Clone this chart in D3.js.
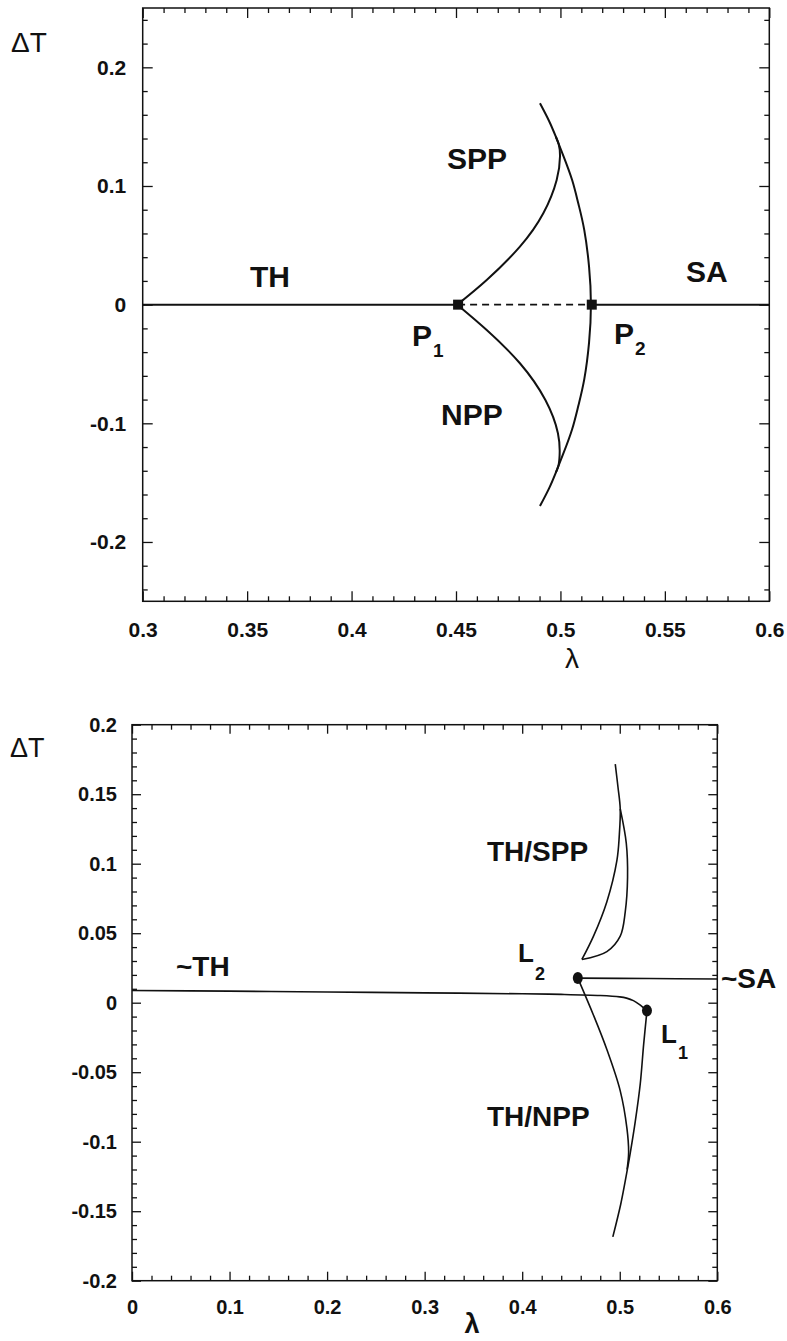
<!DOCTYPE html>
<html>
<head>
<meta charset="utf-8">
<script src="https://cdn.jsdelivr.net/npm/d3@7"></script>
<style>
body { margin: 0; background: #fff; }
text { font-family: "Liberation Sans", Arial, Helvetica, sans-serif; fill: #111; }
</style>
</head>
<body>
<script>
// ---- top panel (lambda 0.3..0.6) ----
const topXTicks = [0.3, 0.35, 0.4, 0.45, 0.5, 0.55, 0.6];
const topYTicks = [-0.2, -0.1, 0, 0.1, 0.2];
const topBaseLeft = [[0.3, 0], [0.451, 0]];
const topBaseDashed = [[0.451, 0], [0.515, 0]];
const topBaseRight = [[0.515, 0], [0.6, 0]];
const topOuterArc = [[0.4902, 0.1697], [0.4945, 0.155], [0.4978, 0.1415], [0.5015, 0.125], [0.5056, 0.105],
  [0.5086, 0.085], [0.5114, 0.063], [0.5137, 0.032], [0.5146, 0], [0.5137, -0.032], [0.5114, -0.063],
  [0.5086, -0.085], [0.5056, -0.105], [0.5015, -0.125], [0.4978, -0.1415], [0.4945, -0.155], [0.4902, -0.1697]];
const topSPP = [[0.4506, 0], [0.4647, 0.0208], [0.4806, 0.0489], [0.4918, 0.077], [0.4982, 0.1051],
  [0.4998, 0.125], [0.4992, 0.135], [0.4978, 0.1415]];
const topNPP = [[0.4506, 0], [0.4647, -0.0213], [0.4806, -0.0494], [0.4928, -0.0804], [0.4988, -0.1084],
  [0.4996, -0.127], [0.499, -0.136], [0.4978, -0.1415]];
const topPoints = [[0.451, 0], [0.515, 0]];

// ---- bottom panel (lambda 0..0.6) ----
const botXTicks = [0, 0.1, 0.2, 0.3, 0.4, 0.5, 0.6];
const botYTicks = [-0.2, -0.15, -0.1, -0.05, 0, 0.05, 0.1, 0.15, 0.2];
const botTH = [[0, 0.0088], [0.1, 0.0083], [0.2, 0.0077], [0.3, 0.0071], [0.4, 0.0064], [0.44, 0.006],
  [0.48, 0.0052], [0.5, 0.0042], [0.507, 0.0033], [0.514, 0.0015], [0.52, -0.0012], [0.5279, -0.0057]];
const botSA = [[0.457, 0.0177], [0.53, 0.0174], [0.6, 0.017]];
const botSPPa = [[0.4954, 0.1716], [0.4982, 0.155], [0.5005, 0.1394], [0.4995, 0.12], [0.4971, 0.1024],
  [0.4868, 0.0727], [0.4731, 0.0479], [0.4612, 0.0311]];
const botSPPb = [[0.4612, 0.0311], [0.4868, 0.0368], [0.5005, 0.0479], [0.5056, 0.0652], [0.508, 0.09],
  [0.5067, 0.1147], [0.5005, 0.1394]];
const botNPPa = [[0.457, 0.0177], [0.4731, -0.009], [0.4868, -0.0337], [0.5005, -0.0634], [0.5074, -0.0906],
  [0.5091, -0.108], [0.5075, -0.12]];
const botNPPb = [[0.5279, -0.0057], [0.5245, -0.03], [0.521, -0.0585], [0.516, -0.085], [0.5108, -0.108],
  [0.5065, -0.125], [0.501, -0.145], [0.4929, -0.1685]];
const botPoints = [[0.457, 0.0177], [0.5279, -0.0057]];

const W = 787, H = 1341;
const svg = d3.select("body").append("svg").attr("width", W).attr("height", H);

const fmt = d => String(d);

function frame(box, x, y, xt, xMinor, yt, yMinor, o) {
  const g = svg.append("g").attr("transform", `translate(${box.l},${box.t})`);
  const w = box.r - box.l, h = box.b - box.t;
  const axes = [
    [d3.axisBottom(x).tickValues(xt).tickSize(-o.major).tickPadding(o.xPad).tickFormat(fmt), `translate(0,${h})`],
    [d3.axisBottom(x).tickValues(xMinor).tickSize(-o.minor).tickFormat(""), `translate(0,${h})`],
    [d3.axisTop(x).tickValues(xt).tickSize(-o.major).tickFormat(""), null],
    [d3.axisTop(x).tickValues(xMinor).tickSize(-o.minor).tickFormat(""), null],
    [d3.axisLeft(y).tickValues(yt).tickSize(-o.major).tickPadding(o.yPad).tickFormat(fmt), null],
    [d3.axisLeft(y).tickValues(yMinor).tickSize(-o.minor).tickFormat(""), null],
    [d3.axisRight(y).tickValues(yt).tickSize(-o.major).tickFormat(""), `translate(${w},0)`],
    [d3.axisRight(y).tickValues(yMinor).tickSize(-o.minor).tickFormat(""), `translate(${w},0)`]
  ];
  axes.forEach(([ax, tr]) => {
    const a = g.append("g");
    if (tr) a.attr("transform", tr);
    a.call(ax);
    a.select(".domain").remove();
    a.selectAll("line").attr("stroke", "#111").attr("stroke-width", 1.3);
    a.selectAll("text").attr("font-size", o.tickFont).attr("font-weight", "bold")
      .attr("font-family", "'Liberation Sans', Arial, sans-serif").attr("fill", "#111");
  });
  g.append("rect").attr("width", w).attr("height", h)
    .attr("fill", "none").attr("stroke", "#111").attr("stroke-width", 1.5);
  return g;
}

function minors(a, b, step, majors) {
  return d3.range(Math.round((b - a) / step) + 1).map(i => +(a + i * step).toFixed(4))
    .filter(v => !majors.some(m => Math.abs(m - v) < 1e-6));
}

function label(x, y, main, sub, size, subSize, subDy, opts = {}) {
  const t = svg.append("text").attr("x", x).attr("y", y).attr("font-size", size)
    .attr("font-weight", opts.normal ? "normal" : "bold");
  t.append("tspan").text(main);
  if (sub) t.append("tspan").attr("dx", opts.subDx || 1).attr("dy", subDy).attr("font-size", subSize).text(sub);
  if (opts.anchor) t.attr("text-anchor", opts.anchor);
  return t;
}

// ---------- top panel ----------
const tb = {l: 142.7, t: 8, r: 769.3, b: 601.3};
const xT = d3.scaleLinear().domain([0.3, 0.6]).range([0, tb.r - tb.l]);
const yT = d3.scaleLinear().domain([-0.25, 0.25]).range([tb.b - tb.t, 0]);
const gT = frame(tb, xT, yT, topXTicks, minors(0.3, 0.6, 0.01, topXTicks),
  topYTicks, minors(-0.24, 0.24, 0.02, topYTicks),
  {major: 10, minor: 5, xPad: 21, yPad: 16.5, tickFont: 21});

const lineT = d3.line().x(d => xT(d[0])).y(d => yT(d[1])).curve(d3.curveNatural);
[topBaseLeft, topBaseRight, topOuterArc, topSPP, topNPP].forEach(s =>
  gT.append("path").attr("d", lineT(s)).attr("fill", "none").attr("stroke", "#111").attr("stroke-width", 2));
gT.append("path").attr("d", lineT(topBaseDashed)).attr("fill", "none").attr("stroke", "#111")
  .attr("stroke-width", 1.6).attr("stroke-dasharray", "7,5");
gT.selectAll("rect.pt").data(topPoints).enter().append("rect").attr("class", "pt")
  .attr("x", d => xT(d[0]) - 5).attr("y", d => yT(d[1]) - 5).attr("width", 10).attr("height", 10).attr("fill", "#111");

label(250, 287, "TH", null, 30);
label(686, 282, "SA", null, 30);
label(447, 169, "SPP", null, 30);
label(441, 425, "NPP", null, 30);
label(412, 346, "P", "1", 30, 19, 11);
label(614, 344, "P", "2", 30, 19, 11);
label(11, 52, "\u0394T", null, 28, 0, 0, {normal: true});
label(572, 668, "\u03bb", null, 28, 0, 0, {normal: true, anchor: "middle"});

// ---------- bottom panel ----------
const bb = {l: 132, t: 724.7, r: 717.3, b: 1280.7};
const xB = d3.scaleLinear().domain([0, 0.6]).range([0, bb.r - bb.l]);
const yB = d3.scaleLinear().domain([-0.2, 0.2]).range([bb.b - bb.t, 0]);
const gB = frame(bb, xB, yB, botXTicks, minors(0, 0.6, 0.02, botXTicks),
  botYTicks, minors(-0.2, 0.2, 0.01, botYTicks),
  {major: 9, minor: 5, xPad: 19, yPad: 15, tickFont: 20});

const lineB = d3.line().x(d => xB(d[0])).y(d => yB(d[1])).curve(d3.curveCatmullRom.alpha(0.5));
[botTH, botSA, botSPPa, botSPPb, botNPPa, botNPPb].forEach(s =>
  gB.append("path").attr("d", lineB(s)).attr("fill", "none").attr("stroke", "#111").attr("stroke-width", 1.6));
gB.selectAll("ellipse").data(botPoints).enter().append("ellipse")
  .attr("cx", d => xB(d[0])).attr("cy", d => yB(d[1])).attr("rx", 5).attr("ry", 6).attr("fill", "#111");

label(176, 976, "~TH", null, 28);
label(487, 861, "TH/SPP", null, 28);
label(487, 1126, "TH/NPP", null, 28);
label(518, 962, "L", "2", 26, 18, 18);
label(661, 1043, "L", "1", 26, 18, 16);
label(721, 988, "~SA", null, 28);
label(10, 757, "\u0394T", null, 27, 0, 0, {normal: true});
label(472, 1333, "\u03bb", null, 27, 0, 0, {anchor: "middle"});
</script>
</body>
</html>
